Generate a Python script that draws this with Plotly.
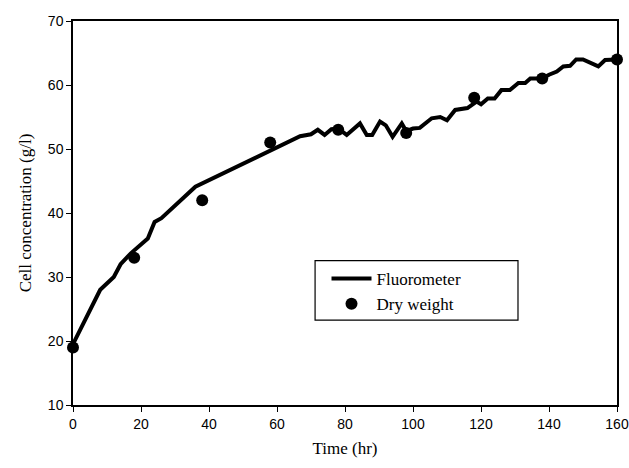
import plotly.graph_objects as go

# Fluorometer (continuous line)
fluor_time = [0, 8, 12, 14, 17, 22, 24, 26, 36, 66.8, 70, 72, 74, 76, 78, 80.5, 84.4, 86.4,
              88, 90.3, 92, 94, 96.7, 98, 100, 102, 105.5, 108, 110, 112.4, 116, 118.7, 120,
              122, 124, 126, 128.5, 131, 133, 134.5, 138, 140, 142.3, 144.2, 146.2, 148,
              150, 154.5, 156.5, 160]
fluor_conc = [19.5, 28, 30, 32, 33.7, 36, 38.6, 39.2, 44.1, 52, 52.3, 53, 52.2, 53.1, 53.2,
              52.2, 54, 52.2, 52.2, 54.3, 53.7, 51.9, 54, 52.8, 53.2, 53.3, 54.8, 55, 54.5,
              56.1, 56.4, 57.4, 57, 57.9, 57.9, 59.2, 59.2, 60.3, 60.3, 61, 61, 61.6, 62.1,
              62.9, 63, 64, 64, 62.9, 63.9, 64]

# Dry weight (points)
dry_time = [0, 18, 38, 58, 78, 98, 118, 138, 160]
dry_conc = [19, 33, 42, 51, 53, 52.5, 58, 61, 64]

x_ticks = [0, 20, 40, 60, 80, 100, 120, 140, 160]
y_ticks = [10, 20, 30, 40, 50, 60, 70]

fig = go.Figure()
fig.add_trace(go.Scatter(x=fluor_time, y=fluor_conc, mode="lines", name="Fluorometer",
                         line=dict(color="black", width=4), cliponaxis=False))
fig.add_trace(go.Scatter(x=dry_time, y=dry_conc, mode="markers", name="Dry weight",
                         marker=dict(color="black", size=12), cliponaxis=False))

sans = "Liberation Sans, Arial, sans-serif"
serif = "Liberation Serif, Times New Roman, serif"

# legend frame (drawn as a paper-space box around the legend entries)
fig.add_shape(type="rect", xref="paper", yref="paper",
              x0=0.445, x1=0.818, y0=0.221, y1=0.376,
              line=dict(color="black", width=1.2), fillcolor="rgba(0,0,0,0)", layer="above")

fig.update_layout(
    width=629, height=468,
    margin=dict(l=73, r=12, t=21, b=63, autoexpand=False),
    paper_bgcolor="white", plot_bgcolor="white",
    showlegend=True,
    legend=dict(x=0.466, y=0.2956, xanchor="left", yanchor="middle",
                borderwidth=0, bgcolor="rgba(0,0,0,0)",
                font=dict(family=serif, size=17, color="black"),
                tracegroupgap=0, itemwidth=40),
    xaxis=dict(range=[0, 160], tickvals=x_ticks, ticks="outside", ticklen=5,
               tickcolor="black", showline=True, linecolor="black", linewidth=1.5,
               mirror=True, showgrid=False, zeroline=False, automargin=False,
               ticklabeloverflow="allow",
               tickfont=dict(family=sans, size=14, color="black"),
               title=dict(text="Time (hr)", font=dict(family=serif, size=17, color="black"),
                          standoff=12)),
    yaxis=dict(range=[10, 70], tickvals=y_ticks, ticks="outside", ticklen=5,
               tickcolor="black", showline=True, linecolor="black", linewidth=1.5,
               mirror=True, showgrid=False, zeroline=False, automargin=False,
               ticklabeloverflow="allow",
               tickfont=dict(family=sans, size=14, color="black"),
               title=dict(text="Cell concentration (g/l)",
                          font=dict(family=serif, size=17, color="black"), standoff=12)),
)

fig.write_html("out.html",
               config={"displayModeBar": False},
               post_script="document.body.style.margin='0';document.body.style.overflow='hidden';")
